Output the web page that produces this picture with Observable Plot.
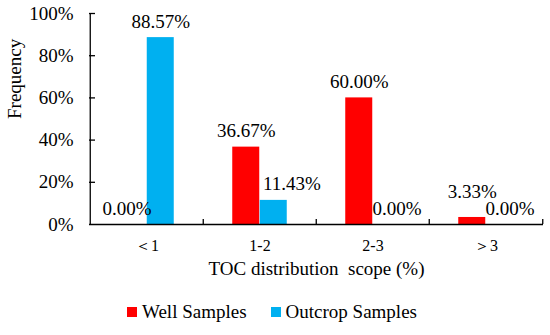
<!DOCTYPE html>
<html>
<head>
<meta charset="utf-8">
<script src="https://cdn.jsdelivr.net/npm/d3@7"></script>
<script src="https://cdn.jsdelivr.net/npm/@observablehq/plot@0.6"></script>
<style>
  html, body { margin: 0; padding: 0; background: #fff; }
  body { width: 550px; height: 335px; overflow: hidden; font-family: "Liberation Serif", "Times New Roman", serif; }
  #legend { height: 44px; display: flex; justify-content: center; align-items: center; font-size: 19px; color: #000; padding-right: 6px; }
  .item { display: flex; align-items: center; }
  .sw { width: 10px; height: 10px; margin-right: 5px; }
  .item + .item { margin-left: 24px; }
</style>
</head>
<body>
<div id="chart"></div>
<div id="legend"></div>
<script>
// ---- data ----
const categories = ["＜1", "1-2", "2-3", "＞3"];
const seriesNames = ["Well Samples", "Outcrop Samples"];
const wellSamples = [0.0000, 0.3667, 0.6000, 0.0333];
const outcropSamples = [0.8857, 0.1143, 0.0000, 0.0000];
const yTicks = [0, 0.2, 0.4, 0.6, 0.8, 1.0];
const xTitle = "TOC distribution\u00A0 scope (%)";
const yTitle = "Frequency";

// ---- styling ----
const colors = {"Well Samples": "#FF0000", "Outcrop Samples": "#00B0F0"};
const fontFamily = "'Liberation Serif', 'Times New Roman', serif";

const rows = [];
categories.forEach((c, i) => {
  rows.push({category: c, series: seriesNames[0], value: wellSamples[i]});
  rows.push({category: c, series: seriesNames[1], value: outcropSamples[i]});
});

const half = 56.75; // half band width in px (band = 113.5)
const barW = 27.5;

// label offsets (style), relative to band center / bar top
function labelDx(d) {
  if (d.series === seriesNames[0]) return d.value === 0 ? -20 : -barW / 2;
  if (d.value === 0) return 24;
  if (d.value < 0.2) return 32;
  return barW / 2;
}
function labelDy(d) {
  if (d.series === seriesNames[0] && d.value > 0 && d.value < 0.1) return -26;
  return -16;
}
const keyOf = d => labelDx(d) + "|" + labelDy(d);
const groups = Array.from(new Set(rows.map(keyOf)));
const fmt = d3.format(".2%");

const chart = Plot.plot({
  width: 550,
  height: 290,
  marginLeft: 89,
  marginRight: 7,
  marginTop: 13,
  marginBottom: 66,
  style: {fontFamily, fontSize: "19px", color: "#000", background: "#fff", overflow: "visible"},
  x: {domain: categories, padding: 0, label: null},
  y: {domain: [0, 1], label: null},
  marks: [
    Plot.barY(rows.filter(d => d.series === seriesNames[0]), {
      x: "category", y: "value", fill: colors[seriesNames[0]],
      insetLeft: half - barW, insetRight: half
    }),
    Plot.barY(rows.filter(d => d.series === seriesNames[1]), {
      x: "category", y: "value", fill: colors[seriesNames[1]],
      insetLeft: half, insetRight: half - barW
    }),
    // axes lines
    Plot.ruleY([0], {stroke: "#000", strokeWidth: 1.3}),
    Plot.ruleX([categories[0]], {dx: -half, stroke: "#000", strokeWidth: 1.3}),
    // inside ticks on x (category boundaries)
    Plot.ruleX(categories.slice(1), {dx: -half, insetTop: 206, stroke: "#000", strokeWidth: 1.3}),
    Plot.ruleX([categories[categories.length - 1]], {dx: half, insetTop: 206, stroke: "#000", strokeWidth: 1.3}),
    // inside ticks on y
    Plot.ruleY(yTicks.slice(1), {insetRight: 448, stroke: "#000", strokeWidth: 1.3}),
    Plot.axisY({ticks: yTicks, tickFormat: d3.format(".0%"), tickSize: 0, tickPadding: 16, label: null, fontSize: 19}),
    Plot.axisX({tickSize: 0, tickPadding: 15, label: null, fontSize: 16}),
    // value labels
    ...groups.map(k => {
      const [dx, dy] = k.split("|").map(Number);
      return Plot.text(rows.filter(d => keyOf(d) === k), {
        x: "category", y: "value", text: d => fmt(d.value), dx, dy, fontSize: 19, fill: "#000"
      });
    }),
    // titles
    Plot.text([xTitle], {frameAnchor: "bottom", dy: 50, fontSize: 19, fill: "#000"}),
    Plot.text([yTitle], {frameAnchor: "left", dx: -75, rotate: -90, fontSize: 19, fill: "#000"})
  ]
});
document.getElementById("chart").appendChild(chart);

const legend = document.getElementById("legend");
seriesNames.forEach(s => {
  const it = document.createElement("div");
  it.className = "item";
  const sw = document.createElement("span");
  sw.className = "sw";
  sw.style.background = colors[s];
  const tx = document.createElement("span");
  tx.textContent = s;
  it.appendChild(sw); it.appendChild(tx);
  legend.appendChild(it);
});
</script>
</body>
</html>
